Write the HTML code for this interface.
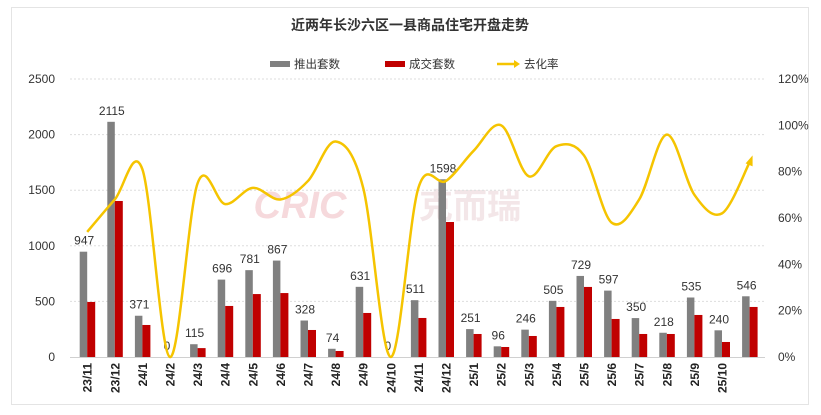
<!DOCTYPE html>
<html><head><meta charset="utf-8"><style>
body{margin:0;background:#fff;}
svg{display:block;font-family:"Liberation Sans","Noto Sans CJK SC",sans-serif;}
</style></head><body>
<svg id="s" width="821" height="415" viewBox="0 0 821 415">
<rect x="11.5" y="7.5" width="797" height="397" fill="#fff" stroke="#e4e4e4"/>
<text x="410" y="30" text-anchor="middle" font-size="14" font-weight="bold" fill="#333">近两年长沙六区一县商品住宅开盘走势</text>
<rect x="270" y="61" width="20" height="6" fill="#808080"/><text x="294" y="68" font-size="11.5" fill="#333">推出套数</text>
<rect x="385" y="61" width="20" height="6" fill="#c00000"/><text x="409" y="68" font-size="11.5" fill="#333">成交套数</text>
<line x1="497" y1="64" x2="515" y2="64" stroke="#f5c400" stroke-width="2.5"/><polygon points="514,60 520,64 514,68" fill="#f5c400"/><text x="524" y="68" font-size="11.5" fill="#333">去化率</text>
<text x="300" y="218" font-size="38" font-weight="bold" font-style="italic" fill="#f6d9dc" text-anchor="middle">CRIC</text>
<text x="470" y="218" font-size="34" font-weight="bold" fill="#f3e6e8" text-anchor="middle">克而瑞</text>
<g id="g"></g>
</svg>
<script>
var g=document.getElementById('g'),NS='http://www.w3.org/2000/svg';
function el(t,a,txt){var e=document.createElementNS(NS,t);for(var k in a)e.setAttribute(k,a[k]);if(txt!=null)e.textContent=txt;g.appendChild(e);return e;}
var Y=function(v){return 357-v*278/2500;},P=function(p){return 357-p*278/120;};
for(var i=0;i<=5;i++){var y=Y(i*500);
 if(i>0)el('line',{x1:70,x2:765,y1:y,y2:y,stroke:'#ddd','stroke-dasharray':'2,2'});
 el('text',{x:55,y:y+4,'text-anchor':'end','font-size':12,fill:'#333'},String(i*500));}
for(var i=0;i<=6;i++){el('text',{x:778,y:P(i*20)+4,'font-size':12,fill:'#333'},(i*20)+'%');}
el('line',{x1:70,x2:765,y1:357.5,y2:357.5,stroke:'#d0d0d0'});
var lab=['23/11','23/12','24/1','24/2','24/3','24/4','24/5','24/6','24/7','24/8','24/9','24/10','24/11','24/12','25/1','25/2','25/3','25/4','25/5','25/6','25/7','25/8','25/9','25/10',''];
var gv=[947,2115,371,0,115,696,781,867,328,74,631,0,511,1598,251,96,246,505,729,597,350,218,535,240,546];
var rv=[495,1403,288,0,80,459,566,575,243,54,396,0,351,1214,207,90,189,450,630,342,207,207,378,135,450];
var pv=[54,68,81,0,75,66,73,68,76,93,73,0,73,76,89,100,78,91,87,58,68,96,70,62,84];
var pts=[];
for(var i=0;i<25;i++){var c=87.2+i*27.6;
 el('rect',{x:c-7.5,y:Y(gv[i]),width:7.5,height:357-Y(gv[i]),fill:'#808080'});
 el('rect',{x:c,y:Y(rv[i]),width:8,height:357-Y(rv[i]),fill:'#c00000'});
 el('text',{x:c-3,y:Y(gv[i])-7,'text-anchor':'middle','font-size':12,fill:'#333'},String(gv[i]));
 if(lab[i])el('text',{x:0,y:0,transform:'translate('+(c+4.5)+',363) rotate(-90)','text-anchor':'end','font-size':12,'font-weight':'bold',fill:'#222'},lab[i]);
 pts.push([c,P(pv[i])]);}
var d='M'+pts[0][0]+','+pts[0][1];
for(var i=0;i<pts.length-1;i++){var p0=pts[Math.max(0,i-1)],p1=pts[i],p2=pts[i+1],p3=pts[Math.min(pts.length-1,i+2)];
 d+=' C'+(p1[0]+(p2[0]-p0[0])/6)+','+(p1[1]+(p2[1]-p0[1])/6)+' '+(p2[0]-(p3[0]-p1[0])/6)+','+(p2[1]-(p3[1]-p1[1])/6)+' '+p2[0]+','+p2[1];}
el('path',{d:d,fill:'none',stroke:'#f5c400','stroke-width':2.5});
var L=pts[24];el('polygon',{points:(L[0]-4)+','+(L[1]+1)+' '+(L[0]+3)+','+(L[1]-7)+' '+(L[0]+3)+','+(L[1]+4),fill:'#f5c400'});
</script>
</body></html>
